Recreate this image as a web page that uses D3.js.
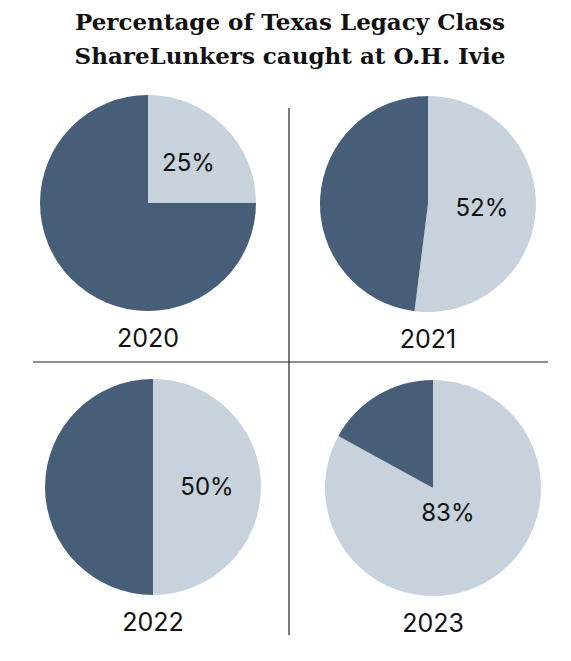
<!DOCTYPE html>
<html><head><meta charset="utf-8">
<script src="https://cdn.jsdelivr.net/npm/d3@7"></script>
<style>body{margin:0;background:#fff}</style>
</head><body>
<script>
// values
var years = ["2020", "2021", "2022", "2023"];
var ivieShare = [25, 52, 50, 83];
var DARK = "#465e78", LIGHT = "#c8d2dc";

var W = 571, H = 661;
var svg = d3.select("body").append("svg").attr("width", W).attr("height", H);

svg.append("text").attr("x", 290).attr("text-anchor", "middle")
  .attr("font-family", "DejaVu Serif, serif").attr("font-weight", 700)
  .attr("font-size", 23).attr("fill", "#111")
  .selectAll("tspan").data(["Percentage of Texas Legacy Class", "ShareLunkers caught at O.H. Ivie"])
  .join("tspan").attr("x", 290).attr("y", function(d, i){ return 30 + i * 34; }).text(function(d){ return d; });

// dividers
svg.append("line").attr("x1", 289).attr("x2", 289).attr("y1", 108).attr("y2", 635).attr("stroke", "#222").attr("stroke-width", 1.2);
svg.append("line").attr("x1", 33).attr("x2", 548).attr("y1", 362).attr("y2", 362).attr("stroke", "#222").attr("stroke-width", 1.2);

var centers = [[148, 203], [428, 204], [153, 487], [433, 488]];
var R = 108;
var pie = d3.pie().sort(null).value(function(d){ return d; });
var arc = d3.arc().innerRadius(0).outerRadius(R);

years.forEach(function(y, i){
  var c = centers[i];
  var g = svg.append("g").attr("transform", "translate(" + c[0] + "," + c[1] + ")");
  var arcs = pie([ivieShare[i], 100 - ivieShare[i]]);
  g.selectAll("path").data(arcs).join("path").attr("d", arc)
    .attr("fill", function(d, k){ return k === 0 ? LIGHT : DARK; });
  // label on the light slice
  var a = arcs[0], mid = (a.startAngle + a.endAngle) / 2;
  var lr = ivieShare[i] >= 80 ? 0.27 : 0.5;
  if (ivieShare[i] < 40) lr = 0.53;
  var lx = Math.sin(mid) * R * lr, ly = -Math.cos(mid) * R * lr;
  g.append("text").attr("x", lx).attr("y", ly).attr("dy", "0.35em").attr("text-anchor", "middle")
    .attr("font-family", "Inter, sans-serif").attr("font-size", 24).attr("fill", "#111").text(ivieShare[i] + "%");
  g.append("text").attr("x", 0).attr("y", R + 27).attr("dy", "0.35em").attr("text-anchor", "middle")
    .attr("font-family", "Inter, sans-serif").attr("font-size", 25).attr("fill", "#111").text(y);
});
</script>
</body></html>
